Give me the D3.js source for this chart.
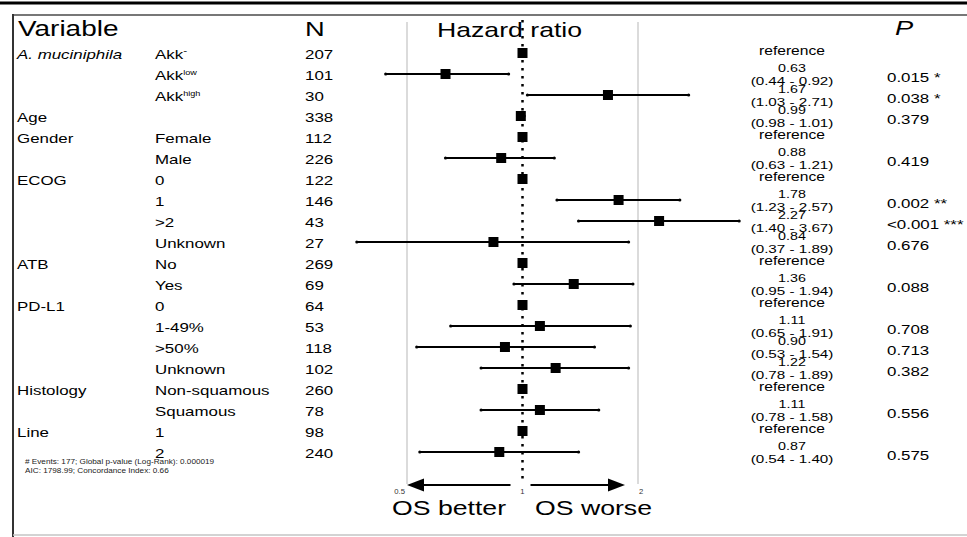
<!DOCTYPE html>
<html><head><meta charset="utf-8">
<script src="https://cdn.jsdelivr.net/npm/d3@7"></script>
<style>html,body{margin:0;padding:0;background:#fff;}svg{display:block;}</style>
</head><body>
<svg id="chart" width="967" height="537"></svg>
<script>
// ---- data ----
const variables = ["A. muciniphila","","","Age","Gender","","ECOG","","","","ATB","","PD-L1","","","","Histology","","Line",""];
const levels = ["Akk","Akk","Akk","","Female","Male","0","1",">2","Unknown","No","Yes","0","1-49%",">50%","Unknown","Non-squamous","Squamous","1","2"];
const levelSup = ["-","low","high","","","","","","","","","","","","","","","","",""];
const nValues = [207,101,30,338,112,226,122,146,43,27,269,69,64,53,118,102,260,78,98,240];
const hr    = [1,0.63,1.67,0.99,1,0.88,1,1.78,2.27,0.84,1,1.36,1,1.11,0.90,1.22,1,1.11,1,0.87];
const lower = [null,0.44,1.03,0.98,null,0.63,null,1.23,1.40,0.37,null,0.95,null,0.65,0.53,0.78,null,0.78,null,0.54];
const upper = [null,0.92,2.71,1.01,null,1.21,null,2.57,3.67,1.89,null,1.94,null,1.91,1.54,1.89,null,1.58,null,1.40];
const pValues = ["","0.015 *","0.038 *","0.379","","0.419","","0.002 **","<0.001 ***","0.676","","0.088","","0.708","0.713","0.382","","0.556","","0.575"];
const tickValues = [0.5,1,2];
const tickLabels = ["0.5","1","2"];
const footnotes = ["# Events: 177; Global p-value (Log-Rank): 0.000019","AIC: 1798.99; Concordance Index: 0.66"];

const svg = d3.select("#chart");
const W = 967, H = 537;
const FONT = "'Liberation Sans', Arial, Helvetica, sans-serif";
const SX = 1.3;

const x = d3.scaleLog().domain([0.5, 2]).range([407, 638]);
const y = d3.scaleLinear().domain([0, nValues.length - 1]).range([53, 452]);

function txt(g, tx, ty, s, opts) {
  opts = opts || {};
  const t = g.append("text")
    .attr("transform", `translate(${tx},${ty}) scale(${opts.sx || SX},1)`)
    .attr("font-family", FONT)
    .attr("font-size", opts.size || 13)
    .attr("fill", opts.fill || "#000")
    .attr("text-anchor", opts.anchor || "start")
    .text(s);
  if (opts.italic) t.attr("font-style", "italic");
  return t;
}

// ---- frame ----
svg.append("line").attr("x1",0).attr("x2",W).attr("y1",3).attr("y2",3).attr("stroke","#000").attr("stroke-width",3);
svg.append("line").attr("x1",13).attr("x2",W).attr("y1",15).attr("y2",15).attr("stroke","#777").attr("stroke-width",2);
svg.append("line").attr("x1",13).attr("x2",13).attr("y1",14).attr("y2",H).attr("stroke","#333").attr("stroke-width",2);
svg.append("line").attr("x1",13).attr("x2",W).attr("y1",535).attr("y2",535).attr("stroke","#c4c4c4").attr("stroke-width",1.5);

// ---- headers ----
const gh = svg.append("g");
txt(gh, 18, 36, "Variable", {size: 21.5});
txt(gh, 305, 36, "N", {size: 21});
txt(gh, 895, 35, "P", {size: 21, italic: true});

// ---- plot grid ----
const gp = svg.append("g");
gp.selectAll("line.grid").data([0.5, 2]).enter().append("line")
  .attr("class","grid")
  .attr("x1", d => x(d)).attr("x2", d => x(d))
  .attr("y1", 22).attr("y2", 484)
  .attr("stroke", "#cfcfcf").attr("stroke-width", 1.5);

txt(gp, 437, 37, "Hazard ratio", {size: 20.5});

gp.append("line")
  .attr("x1", x(1)).attr("x2", x(1)).attr("y1", 20).attr("y2", 484)
  .attr("stroke", "#000").attr("stroke-width", 2.5).attr("stroke-dasharray", "2.5,5.5");

// ---- rows ----
const rows = d3.range(nValues.length);
const ci = rows.filter(i => lower[i] !== null);

gp.selectAll("line.ci").data(ci).enter().append("line")
  .attr("class","ci")
  .attr("x1", i => x(lower[i])).attr("x2", i => x(upper[i]))
  .attr("y1", i => y(i)).attr("y2", i => y(i))
  .attr("stroke", "#000").attr("stroke-width", 2);
gp.selectAll("circle.capl").data(ci).enter().append("circle")
  .attr("cx", i => x(lower[i])).attr("cy", i => y(i)).attr("r", 1.6).attr("fill", "#000");
gp.selectAll("circle.capu").data(ci).enter().append("circle")
  .attr("cx", i => x(upper[i])).attr("cy", i => y(i)).attr("r", 1.6).attr("fill", "#000");
gp.selectAll("rect.pt").data(rows).enter().append("rect")
  .attr("x", i => x(hr[i]) - 5).attr("y", i => y(i) - 5)
  .attr("width", 10).attr("height", 10).attr("fill", "#000");

// ---- left columns ----
const gl = svg.append("g");
rows.forEach(i => {
  const yy = y(i) + 1.8 + 0.36 * 13;
  if (variables[i]) txt(gl, 17, yy, variables[i], {italic: i === 0});
  if (levels[i]) {
    const t = txt(gl, 155, yy, levels[i]);
    if (levelSup[i]) {
      t.append("tspan").attr("font-size", levelSup[i] === "-" ? 9 : 7).attr("dy", -5).text(levelSup[i]);
    }
  }
  txt(gl, 305, yy, String(nValues[i]));
});

// ---- right columns ----
const gr = svg.append("g");
rows.forEach(i => {
  const yy = y(i);
  if (lower[i] === null) {
    txt(gr, 792, yy + 2, "reference", {size: 12, anchor: "middle"});
  } else {
    txt(gr, 792, yy - 1.8, hr[i].toFixed(2), {size: 11, anchor: "middle"});
    txt(gr, 792, yy + 10.6, `(${lower[i].toFixed(2)} - ${upper[i].toFixed(2)})`, {size: 11.7, anchor: "middle"});
  }
  if (pValues[i]) txt(gr, 887, yy + 3 + 0.36 * 13, pValues[i], {size: 13});
});

// ---- axis annotations ----
const ga = svg.append("g");
const anchors = ["end","middle","start"];
const offs = [-2, 0, 1];
tickValues.forEach((v, k) => {
  txt(ga, x(v) + offs[k], 494, tickLabels[k], {size: 7, anchor: anchors[k], fill: "#333", sx: 1.1});
});
const ay = 485;
ga.append("line").attr("x1", x(1) - 12).attr("x2", x(0.5) + 12).attr("y1", ay).attr("y2", ay).attr("stroke","#000").attr("stroke-width",2.2);
ga.append("path").attr("d", `M${x(0.5)},${ay} l17,-6.5 l0,13 z`).attr("fill","#000");
ga.append("line").attr("x1", x(1) + 8).attr("x2", x(2) - 26).attr("y1", ay).attr("y2", ay).attr("stroke","#000").attr("stroke-width",2.2);
ga.append("path").attr("d", `M${x(2) - 13},${ay} l-17,-6.5 l0,13 z`).attr("fill","#000");
txt(ga, 392, 515, "OS better", {size: 20.5});
txt(ga, 535, 515, "OS worse", {size: 20.5});

// ---- footnote ----
footnotes.forEach((s, k) => txt(svg, 25, 464 + k * 9, s, {size: 6.3, fill: "#222"}));
</script>
</body></html>
